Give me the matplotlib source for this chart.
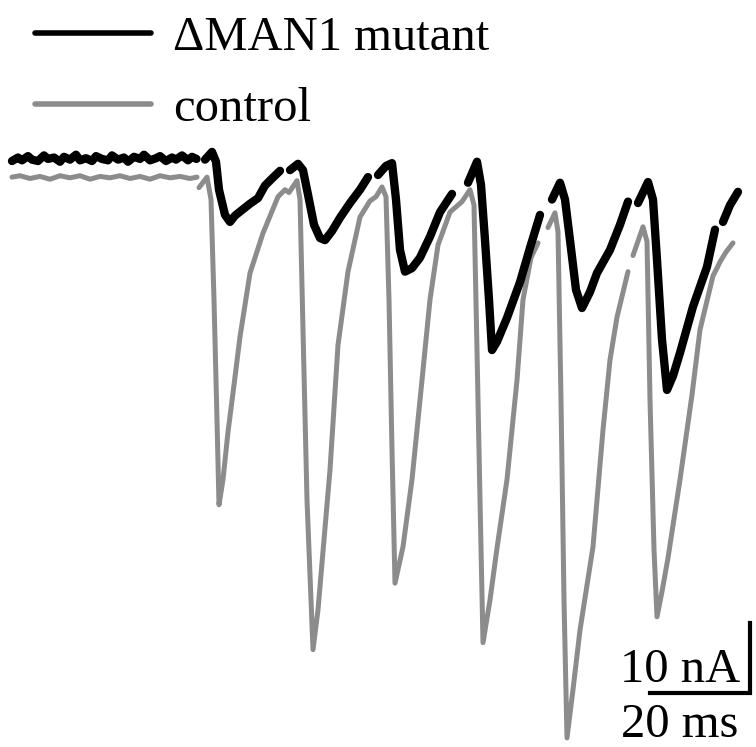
import numpy as np
import matplotlib
matplotlib.use("Agg")
import matplotlib.pyplot as plt

nan = np.nan

# time (ms) and current (nA); nan marks a blanked gap
t_mutant = [-0.6, 0.6, 1.4, 2.6, 3.4, 4.6, 5.8, 6.6, 7.8, 9.0, 9.8, 11.0, 12.2, 13.0, 14.2,
            15.4, 16.2, 17.4, 18.6, 19.4, 20.6, 21.8, 22.6, 23.8, 25.0, 25.8, 27.0, 28.2, 29.0,
            30.2, 31.4, 32.2, 33.4, 34.6, 35.4, 36.3, nan,
            38.0, 39.4, 40.2, 40.8, 42.0, 43.0, 44.0, 45.4, 47.0, 48.6, 50.0, 51.4, 53.0, nan,
            55.0, 56.6, 57.6, 58.6, 59.8, 61.0, 62.0, 63.4, 65.0, 67.0, 69.0, 70.6, nan,
            72.6, 74.2, 75.4, 76.2, 77.0, 78.0, 79.4, 81.0, 83.0, 85.0, 87.4, nan,
            90.6, 92.4, 93.2, 94.0, 94.8, 95.4, 96.4, 98.4, 101.0, 103.0, 105.0, nan,
            107.4, 109.0, 110.0, 111.0, 112.2, 113.4, 115.0, 116.4, 119.0, 121.0, 122.6, nan,
            124.6, 126.6, 127.6, 128.4, 129.4, 130.4, 131.6, 133.0, 135.6, 138.4, 140.0, nan,
            141.6, 143.0, 144.6]
i_mutant = [2.4, 2.9, 2.5, 3.1, 2.6, 2.4, 3.2, 2.7, 2.9, 2.3, 3.0, 2.6, 3.3, 2.5, 2.8,
            2.4, 3.1, 2.7, 2.5, 3.2, 2.6, 2.9, 2.3, 3.0, 2.7, 3.3, 2.5, 2.8, 3.1,
            2.4, 2.9, 2.6, 3.2, 2.5, 3.0, 2.7, nan,
            2.6, 3.7, 2.3, -1.7, -5.3, -6.3, -5.4, -4.6, -3.7, -2.9, -1.1, -0.1, 1.0, nan,
            1.1, 2.0, 1.1, -2.4, -6.7, -8.6, -8.9, -7.6, -5.7, -3.6, -1.7, 0.1, nan,
            0.4, 1.7, 2.1, -3.1, -10.3, -13.4, -12.9, -11.4, -8.4, -4.9, -2.3, nan,
            -0.7, 2.3, -1.0, -8.9, -17.4, -24.6, -23.4, -20.0, -14.9, -10.0, -5.3, nan,
            -3.1, -0.7, -3.1, -8.9, -16.0, -18.6, -16.3, -13.6, -10.3, -6.7, -3.4, nan,
            -3.6, -0.6, -3.1, -11.7, -23.1, -30.3, -28.3, -25.0, -18.4, -12.7, -7.4, nan,
            -6.3, -3.9, -2.0]

t_control = [-0.6, 1.0, 3.0, 5.0, 7.0, 9.0, 11.0, 13.0, 15.0, 17.0, 19.0, 21.0, 23.0, 25.0,
             27.0, 29.0, 31.0, 33.0, 35.0, 36.4, nan,
             36.8, 38.4, 39.2, 39.8, 40.4, 40.8, 41.6, 42.6, 43.8, 45.0, 47.0, 49.6, 52.6, 54.0,
             54.8, 56.4, 57.0, 57.6, 58.4, 59.6, 60.6, 61.8, 63.0, 64.6, 66.6, 69.0, 71.0, 72.2,
             73.4, 74.2, 74.8, 75.4, 76.0, 77.6, 79.4, 81.4, 83.0, 84.6, 87.0, 89.4, 91.0,
             91.8, 92.4, 93.0, 93.6, 95.0, 96.4, 98.4, 100.4, 101.6, 103.2, 104.6, nan,
             106.6, 108.0, 108.6, 109.2, 109.8, 110.4, 111.6, 113.0, 115.6, 117.6, 119.0, 120.4,
             122.6, nan,
             123.6, 125.6, 126.4, 127.0, 127.8, 128.4, 129.4, 130.6, 133.0, 135.4, 137.0, 139.6,
             140.4, 141.0, 142.2, 143.6]
i_control = [0.1, 0.3, -0.1, 0.2, -0.2, 0.3, 0.0, 0.3, -0.2, 0.2, 0.0, 0.3, -0.1, 0.2,
             -0.2, 0.3, 0.0, 0.2, -0.1, 0.1, nan,
             -1.4, 0.1, -3.1, -17.4, -34.6, -46.7, -43.1, -36.3, -29.6, -22.7, -13.6, -7.9, -2.7, -1.7,
             -2.1, -0.4, -3.1, -21.7, -46.0, -67.4, -61.7, -51.7, -41.7, -23.9, -13.4, -5.6, -3.3, -2.7,
             -1.3, -2.7, -17.4, -38.9, -57.9, -52.7, -43.1, -28.9, -17.4, -9.6, -4.9, -3.4, -1.7,
             -3.9, -24.6, -46.0, -66.4, -60.3, -52.9, -43.1, -28.9, -17.4, -11.4, -9.3, nan,
             -7.1, -5.0, -7.7, -31.7, -60.3, -80.0, -73.1, -64.6, -52.7, -36.0, -26.0, -19.9,
             -13.4, nan,
             -11.1, -7.0, -9.1, -31.7, -53.1, -62.7, -59.1, -54.3, -43.1, -31.0, -21.7, -14.0,
             -12.9, -12.0, -10.6, -9.3]

labels = ["\u0394MAN1 mutant", "control"]
bar_ms = 20
bar_na = 10

plt.rcParams['font.family'] = ['Liberation Serif', 'DejaVu Serif']

fig = plt.figure(figsize=(7.56, 7.47), dpi=100)
ax = fig.add_axes([0, 0, 1, 1])

ax.plot(t_control, i_control, color="#8c8c8c", lw=3.6, solid_capstyle="round",
        solid_joinstyle="round", label=labels[1], zorder=2)
ax.plot(t_mutant, i_mutant, color="black", lw=6, solid_capstyle="round",
        solid_joinstyle="round", label=labels[0], zorder=3)

# scale bar
x_end, y_base = 147.0, -73.6
ax.plot([x_end - bar_ms, x_end, x_end], [y_base, y_base, y_base + bar_na],
        color="black", lw=3, solid_joinstyle="miter")
ax.text(x_end - 14, y_base + 1.6, f"{bar_na} nA", fontsize=35, ha="center", va="baseline")
ax.text(x_end - 14, y_base - 6.3, f"{bar_ms} ms", fontsize=35, ha="center", va="baseline")

h, l = ax.get_legend_handles_labels()
leg = ax.legend(h[::-1], l[::-1], loc="upper left", bbox_to_anchor=(0.046, 0.978),
                frameon=False, fontsize=35, handlelength=2.4, handletextpad=0.45,
                labelspacing=0.55, borderpad=0, borderaxespad=0)
for line in leg.get_lines():
    line.set_linewidth(4)

ax.set_xlim(-3, 148.2)
ax.set_ylim(-81.3, 25.4)
ax.axis("off")

fig.savefig("out.png", dpi=100)
